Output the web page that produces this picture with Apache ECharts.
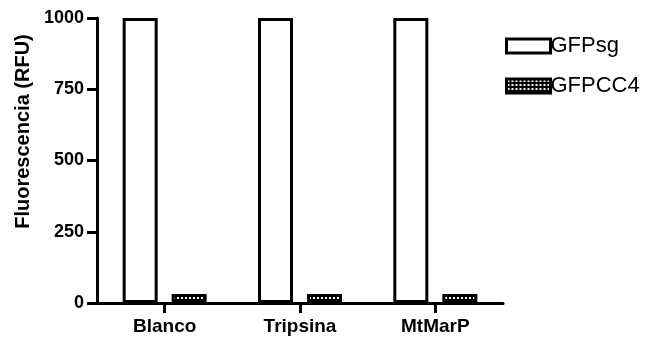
<!DOCTYPE html>
<html>
<head>
<meta charset="utf-8">
<script src="https://cdn.jsdelivr.net/npm/echarts@6/dist/echarts.min.js"></script>
<style>
  html, body { margin: 0; padding: 0; background: #fff; }
  #chart { width: 645px; height: 337px; }
</style>
</head>
<body>
<div id="chart"></div>
<script>
const categories = ["Blanco", "Tripsina", "MtMarP"];
const gfpsgValues = [1000, 1000, 1000];
const gfpcc4Values = [32, 32, 32];
const yTicks = [0, 250, 500, 750, 1000];

// checker pattern for GFPCC4
const pat = document.createElement("canvas");
pat.width = 4;
pat.height = 4;
const pctx = pat.getContext("2d");
pctx.fillStyle = "#000";
pctx.fillRect(0, 0, 4, 4);
pctx.fillStyle = "#fff";
pctx.fillRect(1, 1, 2, 2);

const chart = echarts.init(document.getElementById("chart"));
const font = "Liberation Sans, Arial, sans-serif";

chart.setOption({
  animation: false,
  grid: { left: 97, right: 142, top: 18, bottom: 34, containLabel: false, outerBoundsMode: "none" },
  legend: {
    orient: "vertical",
    left: 500,
    top: 30,
    itemWidth: 44,
    itemHeight: 14,
    itemGap: 18,
    icon: "rect",
    itemStyle: { borderColor: "#000", borderWidth: 3 },
    textStyle: { fontFamily: font, fontSize: 22, color: "#000", padding: [0, 0, 0, -5] },
    data: ["GFPsg", "GFPCC4"]
  },
  xAxis: {
    type: "category",
    data: categories,
    axisLine: { onZero: false, lineStyle: { color: "#000", width: 3 } },
    axisTick: { show: true, alignWithLabel: true, length: 10, lineStyle: { color: "#000", width: 3 } },
    axisLabel: { fontFamily: font, fontSize: 19, fontWeight: "bold", color: "#000", margin: 14 }
  },
  yAxis: {
    type: "value",
    min: yTicks[0],
    max: yTicks[yTicks.length - 1],
    interval: 250,
    name: "Fluorescencia (RFU)",
    nameLocation: "middle",
    nameGap: 63,
    nameTextStyle: { fontFamily: font, fontSize: 20, fontWeight: "bold", color: "#000", padding: [0, 0, 0, 58] },
    splitLine: { show: false },
    axisLine: { show: true, onZero: false, lineStyle: { color: "#010101", width: 3 } },
    axisTick: { show: true, length: 10, lineStyle: { color: "#000", width: 3 } },
    axisLabel: { fontFamily: font, fontSize: 18, fontWeight: "bold", color: "#000", margin: 13, formatter: (v) => String(v) }
  },
  series: [
    {
      name: "GFPsg",
      type: "bar",
      data: gfpsgValues,
      barWidth: 35,
      barGap: "40%",
      itemStyle: { color: "#fff", borderColor: "#000", borderWidth: 3 }
    },
    {
      name: "GFPCC4",
      type: "bar",
      data: gfpcc4Values,
      barWidth: 35,
      itemStyle: { color: { image: pat, repeat: "repeat" }, borderColor: "#000", borderWidth: 3 }
    }
  ]
});
</script>
</body>
</html>
